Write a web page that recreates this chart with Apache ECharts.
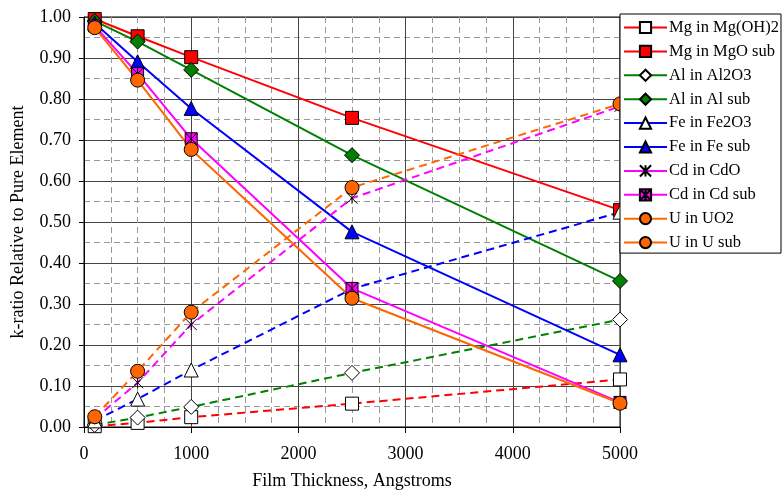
<!DOCTYPE html>
<html>
<head>
<meta charset="utf-8">
<script src="https://cdn.jsdelivr.net/npm/echarts@6/dist/echarts.min.js"></script>
<style>
  html, body { margin: 0; padding: 0; background: #fff; }
  #chart { width: 782px; height: 490px; }
</style>
</head>
<body>
<div id="chart"></div>
<script>
// film thickness (Angstroms)
const thickness = [100, 500, 1000, 2500, 5000];

const mgOH2 = [0.002, 0.01, 0.024, 0.057, 0.116];
const mgSub = [0.995, 0.953, 0.902, 0.754, 0.529];
const alO3 = [0.005, 0.023, 0.049, 0.132, 0.262];
const alSub = [0.99, 0.94, 0.871, 0.663, 0.356];
const feO3 = [0.015, 0.068, 0.139, 0.337, 0.524];
const feSub = [0.985, 0.891, 0.777, 0.476, 0.176];
const cdO = [0.02, 0.108, 0.25, 0.558, 0.782];
const cdSub = [0.978, 0.862, 0.703, 0.338, 0.06];
const uO2 = [0.025, 0.136, 0.28, 0.584, 0.788];
const uSub = [0.974, 0.846, 0.677, 0.314, 0.058];

const names = ['Mg in Mg(OH)2', 'Mg in MgO sub', 'Al in Al2O3', 'Al in Al sub',
  'Fe in Fe2O3', 'Fe in Fe sub', 'Cd in CdO', 'Cd in Cd sub', 'U in UO2', 'U in U sub'];

const font = 'Liberation Serif, Times New Roman, serif';
const starPath = 'path://M0,0L10,10M10,0L0,10M5,0L5,10';
const boxStarPath = 'path://M0,0L10,0L10,10L0,10Z M0,0L10,10M10,0L0,10M5,0L5,10';

function mk(name, values, color, dashed, symbol, size, fill) {
  return {
    name,
    type: 'line',
    data: thickness.map((t, i) => [t, values[i]]),
    symbol,
    symbolSize: size,
    showAllSymbol: true,
    lineStyle: { color, width: 2, type: dashed ? [8, 5] : 'solid' },
    itemStyle: { color: fill, borderColor: '#000', borderWidth: 1 },
    emphasis: { disabled: true },
    animation: false,
  };
}

const series = [
  mk(names[0], mgOH2, '#ff0000', true, 'rect', 13, '#ffffff'),
  mk(names[1], mgSub, '#ff0000', false, 'rect', 13, '#ff0000'),
  mk(names[2], alO3, '#008000', true, 'diamond', 15, '#ffffff'),
  mk(names[3], alSub, '#008000', false, 'diamond', 15, '#008000'),
  mk(names[4], feO3, '#0000ff', true, 'triangle', 14, '#ffffff'),
  mk(names[5], feSub, '#0000ff', false, 'triangle', 14, '#0000ff'),
  mk(names[6], cdO, '#ff00ff', true, starPath, 11, 'none'),
  mk(names[7], cdSub, '#ff00ff', false, boxStarPath, 12, '#ff00ff'),
  mk(names[8], uO2, '#ff6600', true, 'circle', 14, '#ff6600'),
  mk(names[9], uSub, '#ff6600', false, 'circle', 14, '#ff6600'),
];

const chart = echarts.init(document.getElementById('chart'));
chart.setOption({
  backgroundColor: '#ffffff',
  animation: false,
  grid: {
    left: 84, right: 162, top: 17, bottom: 63,
    outerBoundsMode: 'none',
    show: true, borderColor: '#000', borderWidth: 1,
  },
  legend: {
    orient: 'vertical',
    left: 620,
    top: 14,
    width: 161,
    padding: [5, 2, 2, 3],
    backgroundColor: '#fff',
    borderColor: '#000',
    borderWidth: 1,
    borderRadius: 0,
    itemWidth: 43,
    itemHeight: 14,
    itemGap: 6.9,
    lineStyle: { type: 'solid' },
    textStyle: { fontFamily: font, fontSize: 16.5, color: '#000', padding: [0, 0, 0, -3] },
    data: names,
  },
  xAxis: {
    type: 'value',
    min: 0,
    max: 5000,
    interval: 1000,
    name: 'Film Thickness, Angstroms',
    nameLocation: 'middle',
    nameGap: 45,
    nameTextStyle: { fontFamily: font, fontSize: 18, color: '#000' },
    axisLine: { lineStyle: { color: '#000', width: 1 } },
    axisTick: { show: true, length: 6, lineStyle: { color: '#000' } },
    axisLabel: { fontFamily: font, fontSize: 18, color: '#000', margin: 18, formatter: (v) => String(v) },
    splitLine: { show: true, lineStyle: { color: '#444', width: 1 } },
    minorTick: { show: false, splitNumber: 4 },
    minorSplitLine: { show: true, lineStyle: { color: '#999', type: [6, 4], width: 1 } },
  },
  yAxis: {
    type: 'value',
    min: 0,
    max: 1,
    interval: 0.1,
    name: 'k-ratio Relative to Pure Element',
    nameLocation: 'middle',
    nameGap: 57,
    nameTextStyle: { fontFamily: font, fontSize: 18, color: '#000' },
    axisLine: { show: true, lineStyle: { color: '#000', width: 1 } },
    axisTick: { show: true, length: 5, lineStyle: { color: '#000' } },
    axisLabel: {
      fontFamily: font, fontSize: 18, color: '#000', margin: 13,
      formatter: (v) => v.toFixed(2),
    },
    splitLine: { show: true, lineStyle: { color: '#444', width: 1 } },
    minorTick: { show: false, splitNumber: 2 },
    minorSplitLine: { show: true, lineStyle: { color: '#999', type: [6, 4], width: 1 } },
  },
  series,
});
</script>
</body>
</html>
